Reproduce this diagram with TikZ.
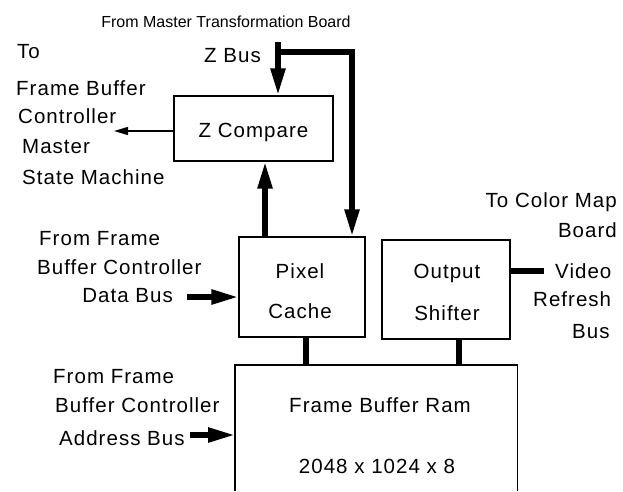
\documentclass[tikz,border=0pt]{standalone}
\usepackage{fontspec}
\setmainfont[LetterSpace=5]{Liberation Sans}
\newfontfamily\plainfont{Liberation Sans}
\usetikzlibrary{arrows.meta}
\begin{document}
\begin{tikzpicture}[x=1pt,y=-1pt,
  box/.style={draw, line width=1.3pt, inner sep=0pt},
  lbl/.style={inner sep=0pt, font=\fontsize{20.5}{24}\selectfont},
  small/.style={inner sep=0pt, font=\plainfont\fontsize{16}{19}\selectfont},
  bus/.style={line width=5.5pt},
  busarrow/.style={line width=5.5pt, -{Triangle[length=27pt,width=14pt]}},
  thinarrow/.style={line width=1.3pt, -{Triangle[length=14pt,width=8pt]}},
]
\useasboundingbox (0,0) rectangle (623,491);

% boxes
\node[box, minimum width=159pt, minimum height=65pt] (zc) at (253.5,128.5) {};
\node[box, minimum width=126pt, minimum height=100pt] (pc) at (302,287) {};
\node[box, minimum width=128pt, minimum height=99pt] (os) at (446,289.5) {};
\node[inner sep=0pt, minimum width=282pt, minimum height=126pt, anchor=north west] (fbr) at (235,365) {};
\draw[line width=1.3pt] (fbr.south west) -- (fbr.north west) -- (fbr.north east) -- (fbr.south east);

% box texts
\node[lbl, anchor=base] (tzc) at (253.5,137) {Z Compare};
\node[lbl, anchor=base] (tpc1) at (300,278) {Pixel};
\node[lbl, anchor=base] (tpc2) at (300,318) {Cache};
\node[lbl, anchor=base] (tos1) at (447,278) {Output};
\node[lbl, anchor=base] (tos2) at (447,320) {Shifter};
\node[lbl, anchor=base] (tfb1) at (380,412) {Frame Buffer Ram};
\node[lbl, anchor=base] (tfb2) at (377,473) {2048 x 1024 x 8};

% outside labels
\node[small, anchor=base] (ttop) at (226,27) {From Master Transformation Board};
\node[lbl, anchor=base west] (tzb) at (204,62) {Z Bus};
\node[lbl, anchor=base west] (tto) at (17,58) {To};
\node[lbl, anchor=base west] (tfb) at (16,95) {Frame Buffer};
\node[lbl, anchor=base west] (tco) at (18,123) {Controller};
\node[lbl, anchor=base west] (tma) at (22,153) {Master};
\node[lbl, anchor=base west] (tsm) at (22,184) {State Machine};

\node[lbl, anchor=base east] (tcm) at (617,207) {To Color Map};
\node[lbl, anchor=base east] (tbo) at (617,237) {Board};
\node[lbl, anchor=base west] (tvi) at (555,278) {Video};
\node[lbl, anchor=base west] (tre) at (533,306) {Refresh};
\node[lbl, anchor=base west] (tbu) at (572,338) {Bus};

\node[lbl, anchor=base west] (tdf) at (39,245) {From Frame};
\node[lbl, anchor=base west] (tdb) at (37,274) {Buffer Controller};
\node[lbl, anchor=base east] (tdd) at (173,302) {Data Bus};

\node[lbl, anchor=base west] (taf) at (53,383) {From Frame};
\node[lbl, anchor=base west] (tab) at (55,412) {Buffer Controller};
\node[lbl, anchor=base west] (taa) at (59,445) {Address Bus};

% connector coordinates
\coordinate (ztop) at (278,42);
\coordinate (zj) at (278,52);
\coordinate (zr) at (352,52);
\coordinate (zup) at (265,0);
\coordinate (mst) at (114,131);
\coordinate (db) at (187,297);
\coordinate (ab) at (190,435);
\coordinate (vr) at (544,271);
\coordinate (pcx) at (306,0);
\coordinate (osx) at (459,0);

% connectors
\draw[busarrow] (ztop) -- (ztop |- zc.north);
\draw[busarrow] (zj) -- (zr) -- (zr |- pc.north);
\draw[busarrow] (zup |- pc.north) -- (zup |- zc.south);
\draw[thinarrow] (mst -| zc.west) -- (mst);
\draw[busarrow] (db) -- (db -| pc.west);
\draw[busarrow] (ab) -- (ab -| fbr.west);
\draw[bus] (vr -| os.east) -- (vr);
\draw[bus] (pcx |- pc.south) -- (pcx |- fbr.north);
\draw[bus] (osx |- os.south) -- (osx |- fbr.north);
\end{tikzpicture}
\end{document}
